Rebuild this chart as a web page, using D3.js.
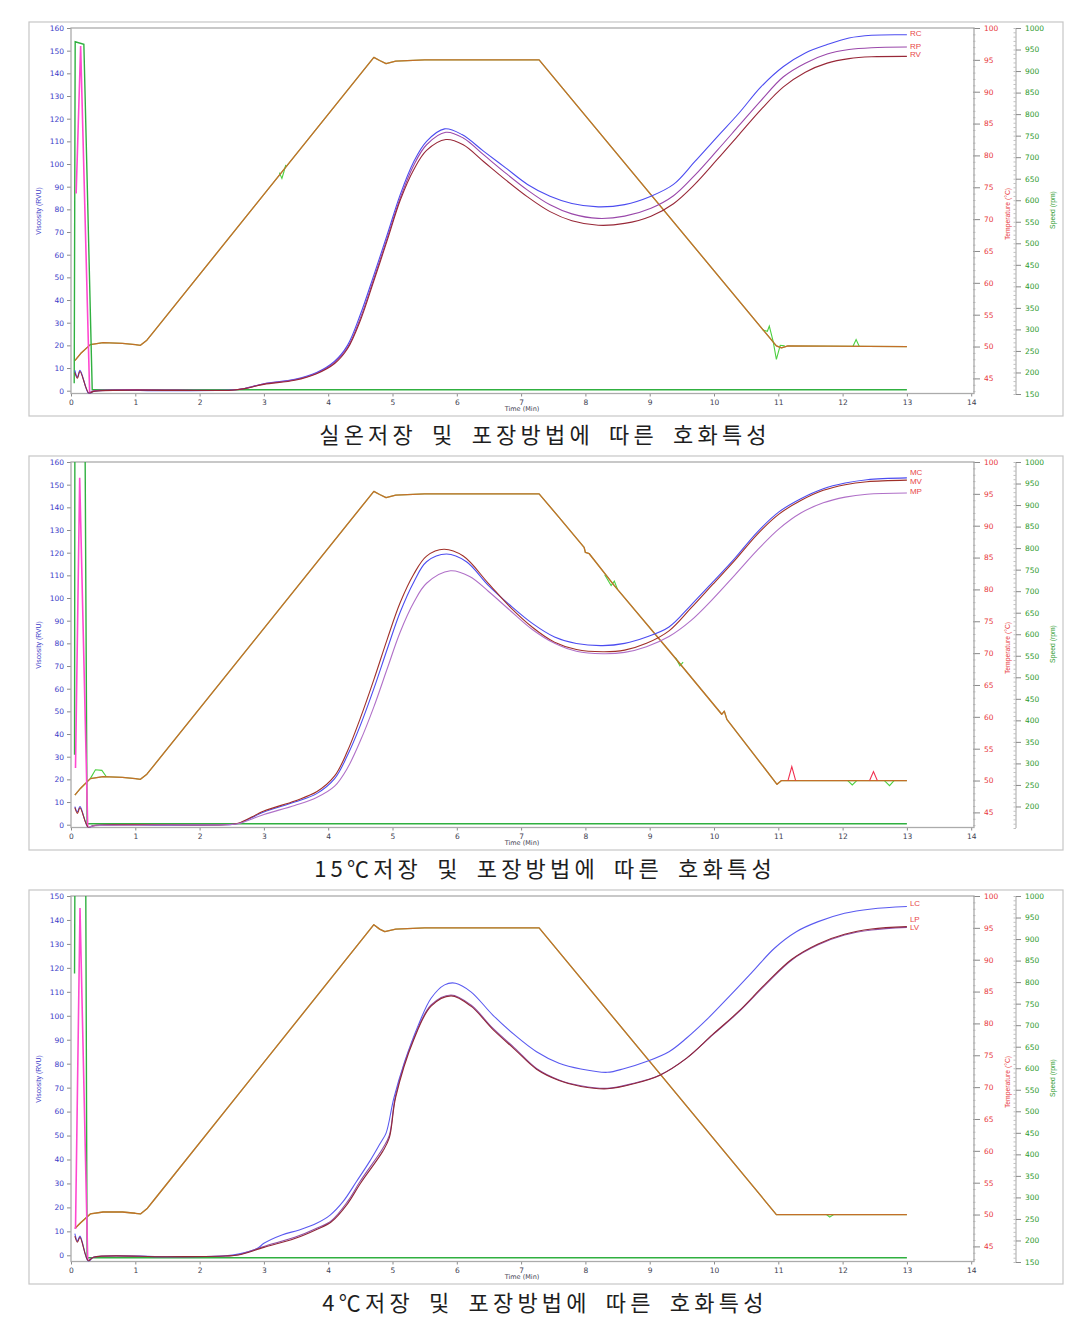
<!DOCTYPE html>
<html>
<head>
<meta charset="utf-8">
<script src="https://cdn.jsdelivr.net/npm/d3@7"></script>
<style>
  body { margin: 0; background: #fff; }
  svg { display: block; }
</style>
</head>
<body>
<svg width="1092" height="1335"></svg>
<script>
// ---- tick labels
var timeTicks = [0, 1, 2, 3, 4, 5, 6, 7, 8, 9, 10, 11, 12, 13, 14];
var viscTicks160 = [0, 10, 20, 30, 40, 50, 60, 70, 80, 90, 100, 110, 120, 130, 140, 150, 160];
var viscTicks150 = [0, 10, 20, 30, 40, 50, 60, 70, 80, 90, 100, 110, 120, 130, 140, 150];
var tempTicks = [45, 50, 55, 60, 65, 70, 75, 80, 85, 90, 95, 100];
var speedTicks = [150, 200, 250, 300, 350, 400, 450, 500, 550, 600, 650, 700, 750, 800, 850, 900, 950, 1000];
var speedTicksNo150 = [200, 250, 300, 350, 400, 450, 500, 550, 600, 650, 700, 750, 800, 850, 900, 950, 1000];

var captions = [
  "실온저장 및 포장방법에 따른 호화특성",
  "15℃저장 및 포장방법에 따른 호화특성",
  "4℃저장 및 포장방법에 따른 호화특성"
];

// ---- room temperature storage: viscosity (RVU) vs time (min)
var roomRC = [[0.06,9],[0.1,6],[0.14,9],[0.28,-1.4],[0.35,-0.3],[1.5,0],[2.5,0.3],[2.7,1],[3.0,3.1],[3.48,5],[3.82,8],[4.1,13],[4.3,20],[4.5,33.6],[4.71,51],[4.92,69],[5.12,86.5],[5.33,101],[5.53,110],[5.81,115.5],[6.08,113],[6.42,105.6],[6.76,98.3],[7.1,91],[7.45,85.8],[7.79,82.6],[8.2,81.1],[8.61,82.1],[9.02,85.8],[9.37,91],[9.7,101],[10.05,112],[10.39,122.5],[10.73,134],[11.08,143],[11.42,149],[11.76,152.7],[12.1,155.6],[12.45,156.8],[13,157]];
var roomRP = [[0.28,-1],[0.35,0],[2.5,0.3],[2.7,1],[3.0,3],[3.48,4.8],[3.82,7.7],[4.1,12.5],[4.3,19],[4.5,32],[4.71,49.5],[4.92,67.5],[5.12,85],[5.33,99.5],[5.53,108.5],[5.83,114],[6.1,111.5],[6.42,104],[6.76,96],[7.1,88.5],[7.45,82],[7.79,78],[8.2,76],[8.61,77],[9.02,80.5],[9.37,86],[9.7,95],[10.05,106],[10.39,117],[10.73,128],[11.08,138.5],[11.42,144.5],[11.76,148.5],[12.1,150.5],[12.45,151.3],[13,151.6]];
var roomRV = [[0.06,8],[0.1,5.5],[0.14,8.5],[0.28,-1.2],[0.35,-0.3],[2.5,0.2],[2.7,0.9],[3.0,2.8],[3.48,4.6],[3.82,7.5],[4.1,12],[4.3,18.5],[4.5,31],[4.71,48.5],[4.92,66.5],[5.12,84],[5.33,97.5],[5.53,106],[5.83,110.8],[6.1,108.5],[6.42,101],[6.76,93],[7.1,85.5],[7.45,79],[7.79,75],[8.2,73],[8.61,73.8],[9.02,77],[9.37,82.5],[9.7,91],[10.05,102],[10.39,113],[10.73,124],[11.08,134],[11.42,140.5],[11.76,144.5],[12.1,146.5],[12.45,147.3],[13,147.5]];
var roomSpike = [[0.08,87],[0.15,152],[0.29,-1]];
var roomSpeed = [[0.05,175],[0.065,968],[0.2,962],[0.33,160],[13,160]];
var roomTemp = [[0.06,47.8],[0.15,48.9],[0.3,50.3],[0.5,50.6],[0.8,50.5],[1.0,50.3],[1.08,50.2],[1.18,51.0],[1.3,52.5],[4.71,95.4],[4.8,94.9],[4.9,94.4],[5.05,94.8],[5.5,95.0],[7.28,95.0],[10.97,50.1],[11.05,49.8],[11.15,50.1],[13,50.0]];
var roomTempGreen = [
  [[3.24,77.3],[3.28,76.4],[3.31,77.4],[3.34,78.5]],
  [[10.76,52.6],[10.83,52.4],[10.86,53.2],[10.92,50.8],[10.97,48.0],[11.03,50.2],[11.1,50.1]],
  [[12.16,50],[12.21,51.1],[12.26,50]]
];
var roomTempRed = [];

// ---- 15 C storage
var c15MC = [[0.06,8],[0.1,5.7],[0.14,8],[0.27,-1.3],[0.35,-0.4],[1.5,-0.2],[2.4,0],[2.6,0.5],[3.0,5.6],[3.48,10],[3.82,13.7],[4.1,20.3],[4.3,30.6],[4.5,43.8],[4.71,60],[4.92,77.6],[5.12,93.8],[5.33,107],[5.53,116],[5.84,119.4],[6.15,116],[6.49,105.6],[6.83,96.8],[7.18,88.7],[7.52,82.8],[7.86,79.9],[8.27,79],[8.61,80],[8.95,82.8],[9.3,87.2],[9.64,96.8],[9.98,107],[10.32,117.4],[10.67,129],[11.01,138],[11.35,143.8],[11.7,148.2],[12.04,150.7],[12.38,152.2],[13,153]];
var c15MV = [[0.06,7.5],[0.1,5],[0.14,7.5],[0.27,-1.2],[0.35,-0.4],[2.4,0],[2.6,0.6],[3.0,6],[3.48,10.5],[3.82,14.5],[4.1,21.5],[4.3,32.5],[4.5,47],[4.71,64],[4.92,82],[5.12,98],[5.33,110.5],[5.53,118.5],[5.8,121.5],[6.1,118.5],[6.49,106.5],[6.83,96],[7.18,87],[7.52,80.5],[7.86,77.3],[8.27,76.3],[8.61,77],[8.95,80],[9.3,85.5],[9.64,95.5],[9.98,106],[10.32,116.5],[10.67,128],[11.01,137],[11.35,143],[11.7,147.5],[12.04,150],[12.38,151.3],[13,152]];
var c15MP = [[0.28,-1],[0.35,-0.5],[2.4,0],[2.6,0.4],[3.0,4.5],[3.48,8.5],[3.82,12],[4.1,17],[4.3,25],[4.5,37],[4.71,52],[4.92,69],[5.12,85],[5.33,98],[5.53,106.5],[5.9,112],[6.2,109.5],[6.49,103],[6.83,94.5],[7.18,86],[7.52,80],[7.86,76.5],[8.27,75.4],[8.61,76],[8.95,78.5],[9.3,83],[9.64,90],[9.98,99.5],[10.32,110],[10.67,121],[11.01,130.5],[11.35,137.5],[11.7,142],[12.04,144.5],[12.38,145.8],[13,146.3]];
var c15Spike = [[0.07,25],[0.135,153],[0.26,-1]];
var c15Speed = [[0.055,320],[0.06,1010],[0.22,1010],[0.25,160],[13,160]];
var c15Temp = [[0.06,47.7],[0.15,48.8],[0.3,50.3],[0.5,50.6],[0.8,50.5],[1.0,50.3],[1.08,50.2],[1.18,51.0],[1.3,52.5],[4.71,95.4],[4.8,94.9],[4.9,94.4],[5.05,94.8],[5.5,95.0],[7.28,95.0],[7.6,91.2],[7.98,86.6],[8.0,85.8],[8.06,85.6],[8.45,80.6],[9.4,69.2],[10.12,60.4],[10.16,60.9],[10.2,59.6],[10.98,49.4],[11.05,50.0],[13,50.0]];
var c15TempGreen = [
  [[0.3,50.3],[0.38,51.7],[0.48,51.6],[0.55,50.6]],
  [[8.3,82.3],[8.4,80.6],[8.45,81.3],[8.5,80.0]],
  [[9.4,69.3],[9.47,68.0],[9.52,68.6]],
  [[12.08,50],[12.15,49.3],[12.22,50]],
  [[12.65,50],[12.73,49.2],[12.8,50]]
];
var c15TempRed = [
  [[11.15,50],[11.21,52.2],[11.27,50]],
  [[12.42,50],[12.48,51.4],[12.54,50]]
];

// ---- 4 C storage
var c4LC = [[0.06,9],[0.1,6],[0.14,8],[0.27,-2.5],[0.35,-0.8],[1.5,-0.6],[2.4,-0.2],[2.6,0.5],[2.9,2.9],[3.0,5],[3.28,8.5],[3.55,10.6],[3.82,13.4],[4.03,16.8],[4.23,22.4],[4.44,30.8],[4.64,39],[4.81,46.8],[4.9,51],[5.02,65.5],[5.19,80.9],[5.4,96],[5.6,107.3],[5.81,112.9],[5.98,113.6],[6.22,110],[6.56,100.3],[6.9,92],[7.24,85],[7.59,80.2],[7.93,77.8],[8.34,76.4],[8.61,78],[8.95,80.9],[9.3,85],[9.57,90.6],[9.91,99],[10.26,108.7],[10.6,118.4],[10.94,128.2],[11.28,135.1],[11.62,139.3],[12.03,142.8],[12.45,144.6],[13,145.6]];
var c4LP = [[0.28,-2],[0.35,-0.8],[1.5,-0.6],[2.4,-0.3],[2.6,0.2],[3.0,3.7],[3.48,7.5],[3.82,11.3],[4.05,14.5],[4.3,22.4],[4.5,31],[4.85,44.7],[4.95,50],[5.05,67],[5.33,90.6],[5.6,104.5],[5.91,108.7],[6.22,104.5],[6.56,94.8],[6.9,86.5],[7.24,78],[7.59,73.2],[7.93,70.8],[8.34,69.7],[8.75,71.8],[9.16,75.3],[9.57,82.2],[9.98,92],[10.39,101.7],[10.8,112.9],[11.21,123.3],[11.62,129.6],[12.03,133.7],[12.45,135.8],[13,136.9]];
var c4LV = [[0.06,8],[0.1,5.5],[0.14,7.5],[0.27,-2.3],[0.35,-0.8],[1.5,-0.6],[2.4,-0.3],[2.6,0.1],[3.0,3.3],[3.48,7],[3.82,10.8],[4.05,14],[4.3,21.5],[4.5,30],[4.85,43.5],[4.95,49],[5.05,66],[5.33,90],[5.6,104],[5.91,108.3],[6.22,104],[6.56,94.3],[6.9,86],[7.24,77.7],[7.59,73],[7.93,70.5],[8.34,69.5],[8.75,71.6],[9.16,75.2],[9.57,82.2],[9.98,92.2],[10.39,102],[10.8,113.3],[11.21,123.6],[11.62,130],[12.03,134],[12.45,136.2],[13,137.2]];
var c4Spike = [[0.07,11],[0.14,145],[0.26,-2]];
var c4Speed = [[0.055,820],[0.06,1010],[0.23,1010],[0.25,160],[13,160]];
var c4Temp = [[0.06,47.8],[0.15,48.7],[0.3,50.1],[0.5,50.4],[0.8,50.4],[1.0,50.2],[1.08,50.1],[1.18,50.9],[1.3,52.4],[4.71,95.5],[4.8,94.8],[4.88,94.4],[5.05,94.8],[5.5,95.0],[7.28,95.0],[10.97,50.0],[11.05,50.0],[13,50.0]];
var c4TempGreen = [
  [[11.75,50],[11.8,49.6],[11.86,50]]
];
var c4TempRed = [];

// ---- layout
var svg = d3.select("svg");
var x = d3.scaleLinear().domain([0, 14]).range([71, 971.2]);
var frameW = 902, frameH = 365.5;

var panels = [
  { top: 28, vMax: 160, vH: 362.7, vTicks: viscTicks160, sTicks: speedTicks,
    curves: [
      { name: "RC", data: roomRC, color: "#4c4cf0", dy: -0.5 },
      { name: "RP", data: roomRP, color: "#9a48aa", dy: -0.5 },
      { name: "RV", data: roomRV, color: "#982838", dy: -1 }
    ],
    spike: roomSpike, speed: roomSpeed, temp: roomTemp, tGreen: roomTempGreen, tRed: roomTempRed, caption: captions[0] },
  { top: 462, vMax: 160, vH: 362.7, vTicks: viscTicks160, sTicks: speedTicksNo150,
    curves: [
      { name: "MC", data: c15MC, color: "#4c4cf0", dy: -4.5 },
      { name: "MV", data: c15MV, color: "#a03028", dy: 2 },
      { name: "MP", data: c15MP, color: "#b070c8", dy: -1.5 }
    ],
    spike: c15Spike, speed: c15Speed, temp: c15Temp, tGreen: c15TempGreen, tRed: c15TempRed, caption: captions[1] },
  { top: 896, vMax: 150, vH: 359.3, vTicks: viscTicks150, sTicks: speedTicks,
    curves: [
      { name: "LC", data: c4LC, color: "#5a5af0", dy: -3 },
      { name: "LP", data: c4LP, color: "#9050a8", dy: -7.5 },
      { name: "LV", data: c4LV, color: "#902838", dy: 1.5 }
    ],
    spike: c4Spike, speed: c4Speed, temp: c4Temp, tGreen: c4TempGreen, tRed: c4TempRed, caption: captions[2] }
];

function styleAxis(sel, color) {
  sel.select(".domain").remove();
  sel.selectAll(".tick line").attr("stroke", "#8a8a8a");
  sel.selectAll(".tick text")
    .attr("fill", color)
    .style("font-family", "DejaVu Sans")
    .style("font-size", "7.5px");
}

panels.forEach(function(p, i) {
  var top = p.top, bot = top + frameH;
  var yV = d3.scaleLinear().domain([0, p.vMax]).range([top + p.vH, top]);
  var yT = d3.scaleLinear().domain([45, 100]).range([top + 350.4, top]);
  var yS = d3.scaleLinear().domain([150, 1000]).range([top + 366, top]);

  var g = svg.append("g");

  // outer border
  g.append("rect")
    .attr("x", 29).attr("y", top - 6).attr("width", 1034).attr("height", 394)
    .attr("fill", "none").attr("stroke", "#c6c6c6").attr("stroke-width", 1.2);

  // clip for the traces
  svg.append("clipPath").attr("id", "clip" + i)
    .append("rect").attr("x", 71).attr("y", top).attr("width", frameW).attr("height", frameH);

  // axes
  var ax = g.append("g").attr("transform", "translate(0," + bot + ")")
    .call(d3.axisBottom(x).tickValues(timeTicks).tickSize(3).tickPadding(3));
  styleAxis(ax, "#404050");

  var av = g.append("g").attr("transform", "translate(71,0)")
    .call(d3.axisLeft(yV).tickValues(p.vTicks).tickSize(4).tickPadding(3));
  styleAxis(av, "#3c3cc8");

  var atMinor = g.append("g").attr("transform", "translate(973,0)")
    .call(d3.axisRight(yT).tickValues(d3.range(43, 101)).tickSize(2.5).tickFormat(""));
  atMinor.select(".domain").remove();
  atMinor.selectAll(".tick line").attr("stroke", "#c0c0c0");
  var at = g.append("g").attr("transform", "translate(973,0)")
    .call(d3.axisRight(yT).tickValues(tempTicks).tickSize(7).tickPadding(4));
  styleAxis(at, "#e8383c");

  g.append("line").attr("x1", 1016).attr("x2", 1016).attr("y1", top).attr("y2", top + 366)
    .attr("stroke", "#a8a8a8");
  var asMinor = g.append("g").attr("transform", "translate(1016,0)")
    .call(d3.axisLeft(yS).tickValues(d3.range(150, 1001, 10)).tickSize(2.5).tickFormat(""));
  asMinor.select(".domain").remove();
  asMinor.selectAll(".tick line").attr("stroke", "#c0c0c0");
  var as = g.append("g").attr("transform", "translate(1016,0)")
    .call(d3.axisRight(yS).tickValues(p.sTicks).tickSize(5).tickPadding(4).tickFormat(d3.format("d")));
  styleAxis(as, "#2e9a2e");

  // plot frame
  g.append("rect").attr("x", 71).attr("y", top).attr("width", frameW + 1).attr("height", frameH)
    .attr("fill", "none").attr("stroke", "#ababab").attr("stroke-width", 1.3);

  // axis titles
  g.append("text").attr("transform", "translate(39," + (top + 183) + ") rotate(-90)")
    .attr("text-anchor", "middle").attr("dominant-baseline", "middle")
    .style("font-family", "Liberation Sans").style("font-size", "6.8px")
    .attr("fill", "#3c3cc8").text("Viscosity (RVU)");
  g.append("text").attr("transform", "translate(1008," + (top + 186) + ") rotate(-90)")
    .attr("text-anchor", "middle").attr("dominant-baseline", "middle")
    .style("font-family", "Liberation Sans").style("font-size", "6.8px")
    .attr("fill", "#e8383c").text("Temperature (°C)");
  g.append("text").attr("transform", "translate(1053," + (top + 182) + ") rotate(-90)")
    .attr("text-anchor", "middle").attr("dominant-baseline", "middle")
    .style("font-family", "Liberation Sans").style("font-size", "6.8px")
    .attr("fill", "#2e9a2e").text("Speed (rpm)");
  g.append("text").attr("x", 522).attr("y", bot + 16)
    .attr("text-anchor", "middle").attr("dominant-baseline", "middle")
    .style("font-family", "DejaVu Sans").style("font-size", "6.5px")
    .attr("fill", "#404050").text("Time  (Min)");

  // traces
  var plot = g.append("g").attr("clip-path", "url(#clip" + i + ")");
  var tLine = d3.line().x(function(d){ return x(d[0]); }).y(function(d){ return yT(d[1]); });
  var vLine = d3.line().x(function(d){ return x(d[0]); }).y(function(d){ return yV(d[1]); })
    .curve(d3.curveCatmullRom.alpha(0.5));
  var vLineLin = d3.line().x(function(d){ return x(d[0]); }).y(function(d){ return yV(d[1]); });
  var sLine = d3.line().x(function(d){ return x(d[0]); }).y(function(d){ return yS(d[1]); });

  // temperature: several runs drawn on top of each other
  plot.append("path").attr("d", tLine(p.temp)).attr("fill", "none")
    .attr("stroke", "#6cb83c").attr("stroke-width", 1.3).attr("stroke-linejoin", "round");
  plot.selectAll(".tg").data(p.tGreen).enter().append("path")
    .attr("d", tLine).attr("fill", "none").attr("stroke", "#4cd040").attr("stroke-width", 1.1);
  plot.append("path").attr("d", tLine(p.temp)).attr("fill", "none")
    .attr("stroke", "#e85020").attr("stroke-width", 1.3).attr("stroke-opacity", 0.7)
    .attr("stroke-linejoin", "round");
  plot.selectAll(".tr").data(p.tRed).enter().append("path")
    .attr("d", tLine).attr("fill", "none").attr("stroke", "#f03050").attr("stroke-width", 1.1);

  // speed
  plot.append("path").attr("d", sLine(p.speed)).attr("fill", "none")
    .attr("stroke", "#30b040").attr("stroke-width", 1.4);

  // initial mixing spike
  plot.append("path").attr("d", vLineLin(p.spike)).attr("fill", "none")
    .attr("stroke", "#ff48d0").attr("stroke-width", 1.6);

  // viscosity curves
  p.curves.forEach(function(c) {
    plot.append("path").attr("d", vLine(c.data)).attr("fill", "none")
      .attr("stroke", c.color).attr("stroke-width", 1.1);
  });

  // end labels
  p.curves.forEach(function(c) {
    var last = c.data[c.data.length - 1];
    g.append("text").attr("x", x(last[0]) + 3).attr("y", yV(last[1]) + c.dy)
      .attr("dominant-baseline", "middle")
      .style("font-family", "Liberation Sans").style("font-size", "8px")
      .attr("fill", "#e84848").text(c.name);
  });

  // caption
  g.append("text").attr("x", 545).attr("y", top + 409)
    .attr("text-anchor", "middle").attr("dominant-baseline", "middle")
    .style("font-family", "Noto Sans CJK KR").style("font-size", "22px")
    .style("letter-spacing", "4.2px").style("word-spacing", "6px")
    .attr("fill", "#1e1e1e").text(p.caption);
});
</script>
</body>
</html>
